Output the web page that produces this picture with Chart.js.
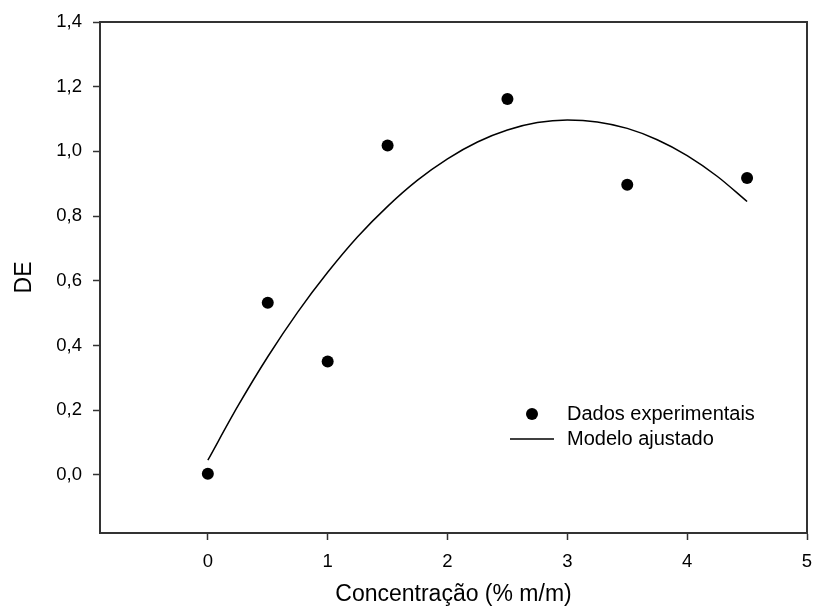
<!DOCTYPE html>
<html>
<head>
<meta charset="utf-8">
<script src="https://cdn.jsdelivr.net/npm/chart.js@4"></script>
<style>
html,body{margin:0;padding:0;background:#fff;}
#wrap{width:813px;height:615px;}
</style>
</head>
<body>
<div id="wrap"><canvas id="c" width="813" height="615"></canvas></div>
<script>
// Experimental data
const expX = [0, 0.5, 1.0, 1.5, 2.5, 3.5, 4.5];
const expY = [0.003, 0.532, 0.350, 1.018, 1.162, 0.897, 0.918];

// Fitted model curve
const modelX = [0, 0.25, 0.5, 0.75, 1.0, 1.25, 1.5, 1.75, 2.0, 2.25, 2.5, 2.75, 3.0, 3.25, 3.5, 3.75, 4.0, 4.25, 4.5];
const modelY = [0.045, 0.212, 0.365, 0.503, 0.626, 0.736, 0.830, 0.911, 0.977, 1.029, 1.066, 1.089, 1.097, 1.091, 1.071, 1.036, 0.987, 0.923, 0.845];

const xTicks = [0, 1, 2, 3, 4, 5];
const yTicks = [0.0, 0.2, 0.4, 0.6, 0.8, 1.0, 1.2, 1.4];

const seriesNames = ['Dados experimentais', 'Modelo ajustado'];
const xTitle = 'Concentração (% m/m)';
const yTitle = 'DE';

const FONT = "'Liberation Sans', Arial, sans-serif";

const framePlugin = {
  id: 'frame',
  afterDraw(chart) {
    const {ctx, chartArea: a} = chart;
    ctx.save();
    ctx.strokeStyle = '#333';
    ctx.lineWidth = 2;
    ctx.strokeRect(a.left, a.top, a.right - a.left, a.bottom - a.top);
    ctx.restore();
  }
};

const legendPlugin = {
  id: 'inlegend',
  afterDraw(chart) {
    const {ctx} = chart;
    ctx.save();
    ctx.font = '20px ' + FONT;
    ctx.fillStyle = '#000';
    ctx.textBaseline = 'middle';
    ctx.textAlign = 'left';
    ctx.beginPath();
    ctx.arc(532, 414, 6, 0, Math.PI * 2);
    ctx.fill();
    ctx.fillText(seriesNames[0], 567, 414);
    ctx.strokeStyle = '#000';
    ctx.lineWidth = 1.5;
    ctx.beginPath();
    ctx.moveTo(510, 439);
    ctx.lineTo(554, 439);
    ctx.stroke();
    ctx.fillText(seriesNames[1], 567, 439);
    ctx.restore();
  }
};

const fmt = v => v.toFixed(1).replace('.', ',');

new Chart(document.getElementById('c'), {
  type: 'scatter',
  data: {
    datasets: [
      {
        label: seriesNames[1],
        data: modelX.map((x, i) => ({x, y: modelY[i]})),
        showLine: true,
        borderColor: '#000',
        borderWidth: 1.5,
        pointRadius: 0,
        cubicInterpolationMode: 'monotone',
        fill: false
      },
      {
        label: seriesNames[0],
        data: expX.map((x, i) => ({x, y: expY[i]})),
        backgroundColor: '#000',
        borderColor: '#000',
        pointRadius: 6,
        pointBorderWidth: 0,
        showLine: false
      }
    ]
  },
  options: {
    responsive: false,
    animation: false,
    devicePixelRatio: 1,
    layout: {padding: {top: 22, right: 5, left: 0, bottom: 0}},
    plugins: {legend: {display: false}, tooltip: {enabled: false}},
    scales: {
      x: {
        type: 'linear',
        min: -0.9,
        max: 5,
        afterBuildTicks: s => { s.ticks = xTicks.map(v => ({value: v})); },
        afterFit: s => { s.height = 82; s.paddingLeft = 0; s.paddingRight = 0; },
        ticks: {
          color: '#000',
          font: {family: FONT, size: 18.5},
          padding: 11,
          maxRotation: 0,
          callback: v => String(v)
        },
        grid: {drawOnChartArea: false, drawTicks: true, tickLength: 7, tickColor: '#333', tickWidth: 1.5},
        border: {display: true, color: '#333', width: 2},
        title: {display: true, text: xTitle, color: '#000', font: {family: FONT, size: 23}, padding: {top: 0, bottom: 7}}
      },
      y: {
        type: 'linear',
        min: -0.18,
        max: 1.4,
        afterBuildTicks: s => { s.ticks = yTicks.map(v => ({value: v})); },
        afterFit: s => { s.width = 100; s.paddingTop = 0; s.paddingBottom = 0; },
        ticks: {
          color: '#000',
          font: {family: FONT, size: 18.5},
          padding: 11,
          callback: v => fmt(v)
        },
        grid: {drawOnChartArea: false, drawTicks: true, tickLength: 7, tickColor: '#333', tickWidth: 1.5},
        border: {display: true, color: '#333', width: 2},
        title: {display: true, text: yTitle, color: '#000', font: {family: FONT, size: 23}, padding: {top: 11, bottom: 0}}
      }
    }
  },
  plugins: [framePlugin, legendPlugin]
});
</script>
</body>
</html>
